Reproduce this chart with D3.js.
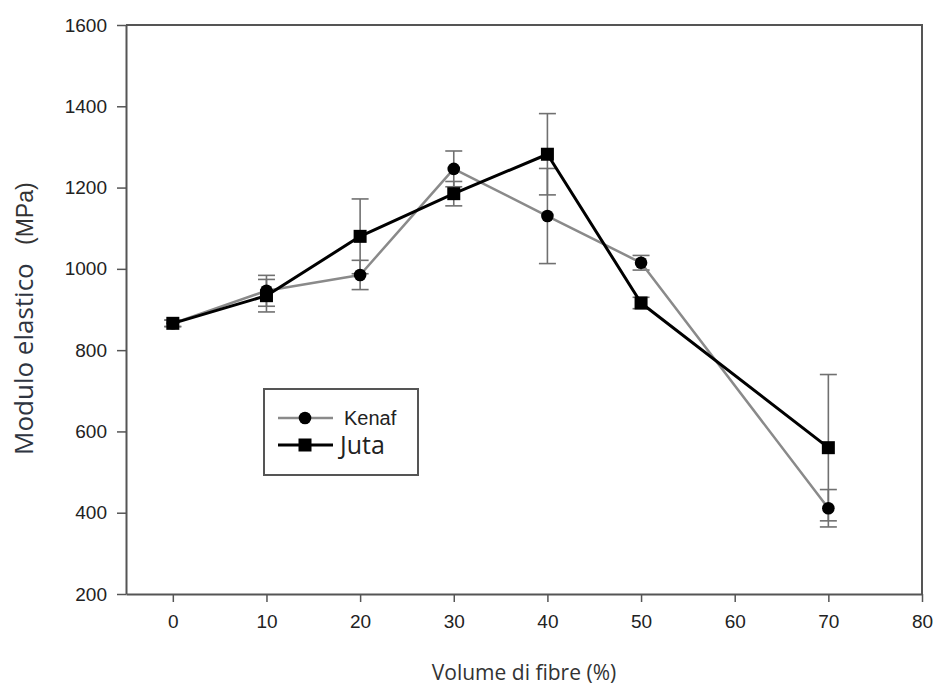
<!DOCTYPE html>
<html>
<head>
<meta charset="utf-8">
<script src="https://cdn.jsdelivr.net/npm/d3@7"></script>
<style>
  body { margin: 0; background: #fff; }
  svg { display: block; }
</style>
</head>
<body>
<div id="chart"></div>
<script>
// Data
var volume = [0, 10, 20, 30, 40, 50, 70];
var kenaf = [866, 946, 985, 1246, 1130, 1015, 411];
var kenafErr = [8, 38, 36, 44, 117, 18, 46];
var juta = [866, 934, 1080, 1185, 1282, 916, 560];
var jutaErr = [8, 40, 92, 30, 100, 14, 180];

var xTicks = [0, 10, 20, 30, 40, 50, 60, 70, 80];
var yTicks = [200, 400, 600, 800, 1000, 1200, 1400, 1600];

var width = 937, height = 688;
// plot box (note: "top" is taken by window.top)
var plotL = 126, plotR = 922, plotT = 25, plotB = 594;

var svg = d3.select("#chart").append("svg")
  .attr("width", width)
  .attr("height", height);

var x = d3.scaleLinear().domain([-5, 80]).range([plotL, plotR]);
var y = d3.scaleLinear().domain([200, 1600]).range([plotB, plotT]);

// frame (top and right sides)
svg.append("path")
  .attr("d", "M" + plotL + "," + plotT + "H" + plotR + "V" + plotB)
  .attr("fill", "none")
  .attr("stroke", "#555")
  .attr("stroke-width", 2);

// axes
var yAxis = svg.append("g")
  .attr("transform", "translate(" + plotL + ",0)")
  .call(d3.axisLeft(y).tickValues(yTicks).tickFormat(d3.format("d"))
    .tickSize(9).tickPadding(10).tickSizeOuter(0));

var xAxis = svg.append("g")
  .attr("transform", "translate(0," + plotB + ")")
  .call(d3.axisBottom(x).tickValues(xTicks).tickSize(8).tickPadding(13).tickSizeOuter(0));

[yAxis, xAxis].forEach(function(g){
  g.select(".domain").attr("stroke", "#555").attr("stroke-width", 2);
  g.selectAll(".tick line").attr("stroke", "#555").attr("stroke-width", 1.5);
  g.selectAll(".tick text").attr("fill", "#222");
});
yAxis.selectAll(".tick text")
  .style("font-family", "'Liberation Sans', Arial, sans-serif")
  .style("font-size", "19px");
xAxis.selectAll(".tick text")
  .style("font-family", "'Liberation Sans Narrow', 'Liberation Sans', Arial, sans-serif")
  .style("font-size", "19px");

// axis titles
svg.append("text")
  .attr("x", 524)
  .attr("y", 680)
  .attr("text-anchor", "middle")
  .style("font-family", "'Open Sans', sans-serif")
  .style("font-size", "21px")
  .attr("fill", "#333")
  .text("Volume di fibre (%)");

svg.append("text")
  .attr("transform", "translate(33,455) rotate(-90)")
  .style("font-family", "'Open Sans', sans-serif")
  .style("font-size", "26px")
  .attr("fill", "#2e3440")
  .text("Modulo elastico");

svg.append("text")
  .attr("transform", "translate(33,245) rotate(-90)")
  .style("font-family", "'Liberation Sans', Arial, sans-serif")
  .style("font-size", "23px")
  .attr("fill", "#333")
  .text("(MPa)");

var series = [
  {name: "Kenaf", values: kenaf, err: kenafErr, color: "#8a8a8a", width: 2.5, shape: "circle"},
  {name: "Juta", values: juta, err: jutaErr, color: "#000", width: 3, shape: "square"}
];

// error bars
var capW = 8.5;
series.forEach(function(s){
  var g = svg.append("g").attr("stroke", "#707070").attr("stroke-width", 1.6);
  volume.forEach(function(v, i){
    var cx = x(v), hi = y(s.values[i] + s.err[i]), lo = y(s.values[i] - s.err[i]);
    g.append("line").attr("x1", cx).attr("x2", cx).attr("y1", hi).attr("y2", lo);
    g.append("line").attr("x1", cx - capW).attr("x2", cx + capW).attr("y1", hi).attr("y2", hi);
    g.append("line").attr("x1", cx - capW).attr("x2", cx + capW).attr("y1", lo).attr("y2", lo);
  });
});

// lines
var line = d3.line()
  .x(function(d){ return x(d[0]); })
  .y(function(d){ return y(d[1]); });

series.forEach(function(s){
  svg.append("path")
    .datum(d3.zip(volume, s.values))
    .attr("d", line)
    .attr("fill", "none")
    .attr("stroke", s.color)
    .attr("stroke-width", s.width)
    .attr("stroke-linejoin", "round");
});

// markers
function drawMarker(g, shape, cx, cy){
  if (shape == "circle") {
    g.append("circle").attr("cx", cx).attr("cy", cy).attr("r", 6.3).attr("fill", "#000");
  } else {
    g.append("rect").attr("x", cx - 6.5).attr("y", cy - 6.5)
      .attr("width", 13).attr("height", 13).attr("fill", "#000");
  }
}

series.forEach(function(s){
  var g = svg.append("g");
  volume.forEach(function(v, i){
    drawMarker(g, s.shape, x(v), y(s.values[i]));
  });
});

// legend
var lg = svg.append("g");
lg.append("rect")
  .attr("x", 264).attr("y", 389)
  .attr("width", 154).attr("height", 86)
  .attr("fill", "#fff")
  .attr("stroke", "#555")
  .attr("stroke-width", 2);

var legendRows = [
  {s: series[0], y: 418, tx: 344, font: "'Liberation Sans', Arial, sans-serif", size: "20px"},
  {s: series[1], y: 445, tx: 340, font: "'Open Sans', sans-serif", size: "25px"}
];
legendRows.forEach(function(r){
  lg.append("line")
    .attr("x1", 278).attr("x2", 333)
    .attr("y1", r.y).attr("y2", r.y)
    .attr("stroke", r.s.color)
    .attr("stroke-width", r.s.width);
  drawMarker(lg, r.s.shape, 305, r.y);
  lg.append("text")
    .attr("x", r.tx).attr("y", r.y)
    .attr("dy", "0.35em")
    .style("font-family", r.font)
    .style("font-size", r.size)
    .attr("fill", "#222")
    .text(r.s.name);
});
</script>
</body>
</html>
